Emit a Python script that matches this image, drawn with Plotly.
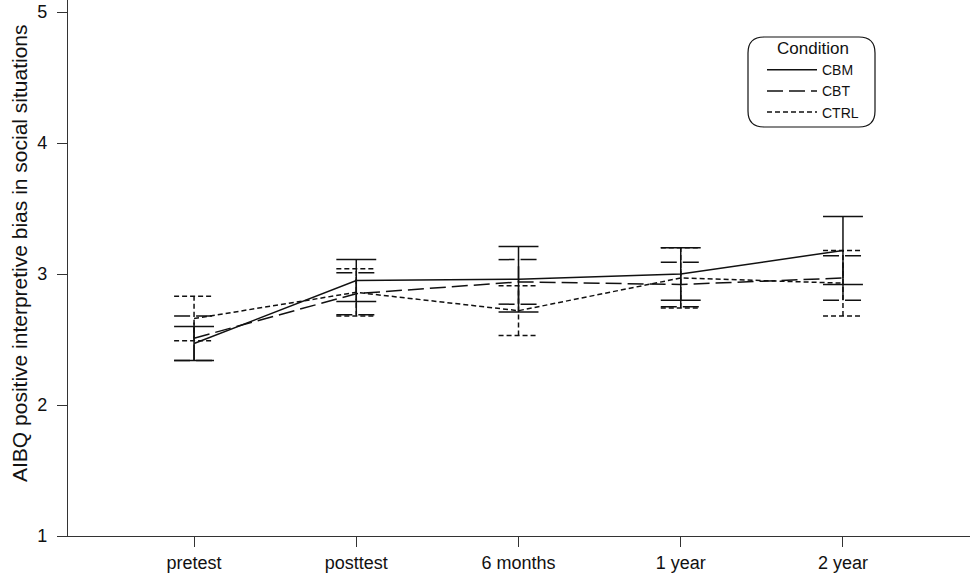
import plotly.graph_objects as go

# Measurement occasions and groups
time_points = ["pretest", "posttest", "6 months", "1 year", "2 year"]
conditions = ["CBM", "CBT", "CTRL"]

# Group means and error-bar half-lengths per occasion
cbm_mean = [2.47, 2.95, 2.96, 3.00, 3.18]
cbm_err = [0.13, 0.16, 0.25, 0.20, 0.26]
cbt_mean = [2.51, 2.85, 2.94, 2.92, 2.97]
cbt_err = [0.17, 0.16, 0.17, 0.17, 0.17]
ctrl_mean = [2.66, 2.86, 2.72, 2.97, 2.93]
ctrl_err = [0.17, 0.18, 0.19, 0.23, 0.25]

y_ticks = [1, 2, 3, 4, 5]

FONT = "Liberation Sans, Arial, Helvetica, sans-serif"
INK = "#111111"
CAP = 0.123  # half-width of the error-bar caps, in category units
dashes = {"CBM": "solid", "CBT": "16px,6px", "CTRL": "5px,3px"}
series = {
    "CBM": (cbm_mean, cbm_err),
    "CBT": (cbt_mean, cbt_err),
    "CTRL": (ctrl_mean, ctrl_err),
}

x_idx = list(range(len(time_points)))


def whisker_path(means, errs, half):
    xs, ys = [], []
    for i, (m, e) in enumerate(zip(means, errs)):
        lo, hi = m - e, m + e
        xs += [i, i, None, i - half, i + half, None, i - half, i + half, None]
        ys += [lo, hi, None, hi, hi, None, lo, lo, None]
    return xs, ys


fig = go.Figure()

for name in conditions:
    means, errs = series[name]
    wx, wy = whisker_path(means, errs, CAP)
    fig.add_trace(go.Scatter(
        x=wx, y=wy, mode="lines", showlegend=False, hoverinfo="skip",
        line=dict(color=INK, width=1.5, dash=dashes[name]),
    ))

for name in conditions:
    means, _ = series[name]
    fig.add_trace(go.Scatter(
        x=x_idx, y=means, mode="lines", name=name,
        line=dict(color=INK, width=1.5, dash=dashes[name]),
    ))

# plot area geometry in pixels
L, R, T, B = 68, 0, 0, 39
W, H = 970, 575
pw, ph = W - L - R, H - T - B


def px_to_paper(px, py):
    return (px - L) / pw, (H - B - py) / ph


# rounded frame around the legend
bx0, by0, bx1, by1, rad = 748, 37, 875, 127, 16
x0, y0 = px_to_paper(bx0, by0)
x1, y1 = px_to_paper(bx1, by1)
rx, ry = rad / pw, rad / ph
frame = (
    f"M {x0 + rx},{y0} L {x1 - rx},{y0} Q {x1},{y0} {x1},{y0 - ry} "
    f"L {x1},{y1 + ry} Q {x1},{y1} {x1 - rx},{y1} "
    f"L {x0 + rx},{y1} Q {x0},{y1} {x0},{y1 + ry} "
    f"L {x0},{y0 - ry} Q {x0},{y0} {x0 + rx},{y0} Z"
)

lx, ly = px_to_paper(762, 32)
tx, ty = px_to_paper(20, 253)

fig.update_layout(
    width=W, height=H,
    margin=dict(l=L, r=R, t=T, b=B),
    paper_bgcolor="white", plot_bgcolor="white",
    font=dict(family=FONT, color=INK),
    shapes=[dict(type="path", path=frame, xref="paper", yref="paper",
                 line=dict(color=INK, width=1.2), fillcolor="rgba(0,0,0,0)")],
    legend=dict(
        x=lx, y=ly, xanchor="left", yanchor="top",
        bgcolor="rgba(0,0,0,0)", borderwidth=0,
        title=dict(text="Condition", side="top center", font=dict(size=17)),
        font=dict(size=14), itemwidth=50, tracegroupgap=0,
    ),
    annotations=[dict(
        text="AIBQ positive interpretive bias in social situations",
        xref="paper", yref="paper", x=tx, y=ty, textangle=-90,
        showarrow=False, xanchor="center", yanchor="middle",
        font=dict(size=21),
    )],
)

fig.update_xaxes(
    range=[-0.777, 4.783], tickmode="array", tickvals=x_idx, ticktext=time_points,
    showline=True, linecolor="#333333", linewidth=1.2,
    ticks="outside", ticklen=10, tickcolor="#333333", tickwidth=1.2,
    showgrid=False, zeroline=False, tickfont=dict(size=18),
)
fig.update_yaxes(
    range=[1, 5.092], tickmode="array", tickvals=y_ticks,
    showline=True, linecolor="#333333", linewidth=1.2,
    ticks="outside", ticklen=10, tickcolor="#333333", tickwidth=1.2,
    showgrid=False, zeroline=False, tickfont=dict(size=18),
    ticklabelstandoff=6,
)

fig.write_html("out.html")
